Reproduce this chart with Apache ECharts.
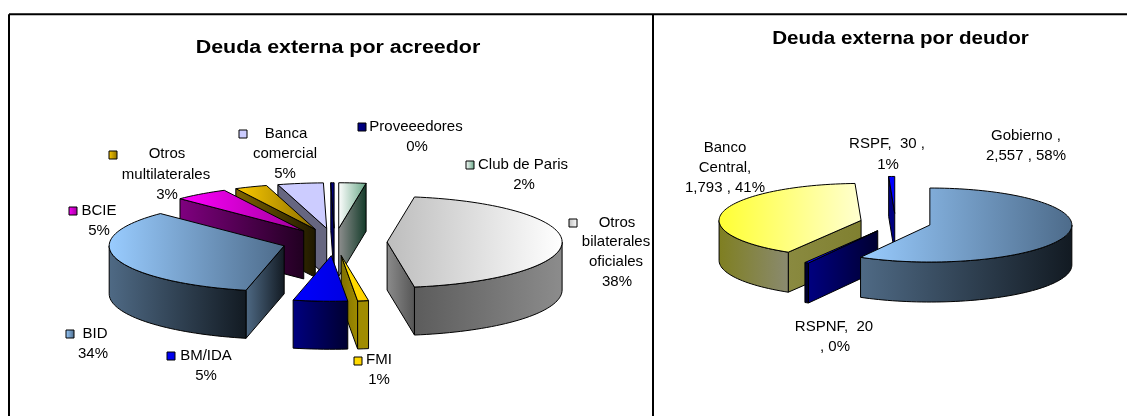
<!DOCTYPE html>
<html><head><meta charset="utf-8">
<style>html,body{margin:0;padding:0;background:#fff}#c{width:1127px;height:416px}</style>
<script src="https://cdn.jsdelivr.net/npm/echarts@6/dist/echarts.min.js"></script>
</head><body><div id="c"></div>
<script>
// --- data ---
var creditorNames = ['Proveeedores','Club de Paris','Otros bilaterales oficiales','FMI','BM/IDA','BID','BCIE','Otros multilaterales','Banca comercial'];
// wedge sizes as drawn (the wedge for "Otros bilaterales" is drawn larger than its 38% label)
var creditorShares = [0.3, 2.5, 45, 1, 5, 34, 5, 3, 4.2];
var creditorLabels = ['0%','2%','38%','1%','5%','34%','5%','3%','5%'];
var debtorNames = ['Gobierno','RSPNF','Banco Central','RSPF'];
var debtorValues = [2557, 20, 1793, 30];
var debtorLabels = ['2,557 , 58%','20 , 0%','1,793 , 41%','30 , 1%'];

// --- styles: [top from,to], [outer from,to], [wall from,to] ---
var creditorStyles = [
 {top:['#000090','#000070'],outer:['#000080','#000040'],wall:['#000080','#000040']},
 {top:['#ffffff','#66a585'],outer:['#8a8a8a','#123a28'],wall:['#8f8f8f','#123a28']},
 {top:['#bdbdbd','#ffffff'],outer:['#5c5c5c','#8c8c8c'],wall:['#8c8c8c','#555555']},
 {top:['#ffe100','#ffd000'],outer:['#a08c00','#a08c00'],wall:['#7f6f00','#a08c00']},
 {top:['#0000ff','#0000e0'],outer:['#000080','#000030'],wall:['#000080','#000030']},
 {top:['#99ccff','#4d6b8a'],outer:['#4f6a85','#121a22'],wall:['#4f6a85','#121a22']},
 {top:['#ff00ff','#a0009a'],outer:['#800080','#200020'],wall:['#800080','#200020']},
 {top:['#ffcc00','#8a6e00'],outer:['#806600','#1e1800'],wall:['#806600','#1e1800']},
 {top:['#ccccff','#ccccff'],outer:['#666680','#666680'],wall:['#666680','#666680']}
];
var debtorStyles = [
 {top:['#99ccff','#4d6b8a'],outer:['#4f6a85','#121a22'],wall:['#4f6a85','#121a22']},
 {top:['#0000ff','#0000ff'],outer:['#000030','#000030'],wall:['#000080','#000030']},
 {top:['#ffff33','#ffffd0'],outer:['#7f7f20','#8a8a70'],wall:['#8a8a40','#808030']},
 {top:['#0000ff','#0000ff'],outer:['#000080','#000080'],wall:['#000080','#000080']}
];

// --- geometry of the two pies ---
var pieLeft  = {cx:334.6, cy:242, rx:175, ry:45.6, depth:48, explode:0.30, start:-1.08, order:[0,1,8,7,6,5,2,3,4]};
var pieRight = {cx:895.5, cy:222.7, rx:142, ry:37, depth:40, explode:0.25, start:0, order:[3,2,1,0]};

function grad(c){return {type:'linear',x:0,y:0,x2:1,y2:0,colorStops:[{offset:0,color:c[0]},{offset:1,color:c[1]}]};}
function sty(c){return {fill:grad(c),stroke:'#000',lineWidth:1};}

function pieSeries(values, styles, g){
  var total=values.reduce(function(a,b){return a+b;},0), acc=0, spans=values.map(function(v){
    var a=acc; acc+=v; return [g.start+a/total*360, g.start+acc/total*360];
  });
  return {
    type:'custom', coordinateSystem:'none', silent:true, clip:false,
    data:g.order.map(function(i){return [i,values[i]];}),
    renderItem:function(params,api){
      var i=api.value(0), a=spans[i][0], b=spans[i][1], mid=(a+b)/2, R=Math.PI/180;
      var cx=g.cx+Math.sin(mid*R)*g.explode*g.rx, cy=g.cy-Math.cos(mid*R)*g.explode*g.ry;
      function P(t,d){return [cx+Math.sin(t*R)*g.rx, cy-Math.cos(t*R)*g.ry+(d||0)];}
      function arc(f,t,d){var n=Math.max(2,Math.ceil(Math.abs(t-f)/2)),r=[];for(var k=0;k<=n;k++)r.push(P(f+(t-f)*k/n,d));return r;}
      var kids=[], s=styles[i], sinA=Math.sin(a*R), sinB=Math.sin(b*R);
      if(sinA<-1e-6) kids.push({type:'polygon',shape:{points:[[cx,cy],P(a),P(a,g.depth),[cx,cy+g.depth]]},style:sty(s.wall)});
      if(sinB> 1e-6) kids.push({type:'polygon',shape:{points:[[cx,cy],P(b),P(b,g.depth),[cx,cy+g.depth]]},style:sty(s.wall)});
      var f=Math.max(a,90), t=Math.min(b,270);
      if(t>f) kids.push({type:'polygon',shape:{points:arc(f,t,0).concat(arc(t,f,g.depth))},style:sty(s.outer)});
      kids.push({type:'polygon',shape:{points:[[cx,cy]].concat(arc(a,b,0))},style:sty(s.top)});
      return {type:'group',children:kids};
    }
  };
}

// --- text ---
var FONT='"Liberation Sans", Arial, sans-serif';
function textEl(str,x,y,bold,size,sx){
  return {type:'text',x:x,y:y+1,scaleX:sx||1,z:20,style:{text:str,x:0,y:0,fill:'#000',align:'center',verticalAlign:'middle',font:(bold?'bold ':'')+(size||15)+'px '+FONT}};
}
function keyEl(x,y,c){
  return {type:'rect',z:20,shape:{x:x-4,y:y-4,width:8,height:8},style:{fill:grad(c),stroke:'#000',lineWidth:1}};
}
function lineEl(x1,y1,x2,y2){return {type:'line',z:30,shape:{x1:x1,y1:y1,x2:x2,y2:y2},style:{stroke:'#000',lineWidth:2}};}

var leftLabels=[
 {i:0,key:[362,127],lines:[['Proveeedores',416,126],[creditorLabels[0],417,146]]},
 {i:1,key:[470,165],lines:[['Club de Paris',523,164],[creditorLabels[1],524,184]]},
 {i:2,key:[573,223],lines:[['Otros',617,222],['bilaterales',616,241],['oficiales',616,261],[creditorLabels[2],617,281]]},
 {i:3,key:[358,361],lines:[['FMI',379,359],[creditorLabels[3],379,379]]},
 {i:4,key:[171,356],lines:[['BM/IDA',206,355],[creditorLabels[4],206,375]]},
 {i:5,key:[70,334],lines:[['BID',95,333],[creditorLabels[5],93,353]]},
 {i:6,key:[73,211],lines:[['BCIE',99,210],[creditorLabels[6],99,230]]},
 {i:7,key:[113,155],lines:[['Otros',167,153],['multilaterales',166,174],[creditorLabels[7],167,194]]},
 {i:8,key:[243,134],lines:[['Banca',286,133],['comercial',285,153],[creditorLabels[8],285,173]]}
];
var rightLabels=[
 ['Gobierno ,',1026,135],[debtorLabels[0],1026,155],
 ['RSPF,  30 ,',887,143],['1%',888,164],
 ['Banco',725,147],['Central,',725,167],[debtorLabels[2],725,187],
 ['RSPNF,  20',834,326],[', 0%',835,346]
];
var graphics=[
 lineEl(9,14.3,1127,14.3), lineEl(9,14.3,9,416), lineEl(653,14.3,653,416),
 textEl('Deuda externa por acreedor',338,47,true,18,1.19),
 textEl('Deuda externa por deudor',900.5,38,true,18,1.145)
];
leftLabels.forEach(function(l){
  graphics.push(keyEl(l.key[0],l.key[1],creditorStyles[l.i].top));
  l.lines.forEach(function(t){graphics.push(textEl(t[0],t[1],t[2]));});
});
rightLabels.forEach(function(t){graphics.push(textEl(t[0],t[1],t[2]));});

var chart=echarts.init(document.getElementById('c'),null,{renderer:'canvas'});
chart.setOption({
  animation:false, backgroundColor:'#fff',
  series:[pieSeries(creditorShares,creditorStyles,pieLeft),pieSeries(debtorValues,debtorStyles,pieRight)],
  graphic:{elements:graphics}
});
</script></body></html>
